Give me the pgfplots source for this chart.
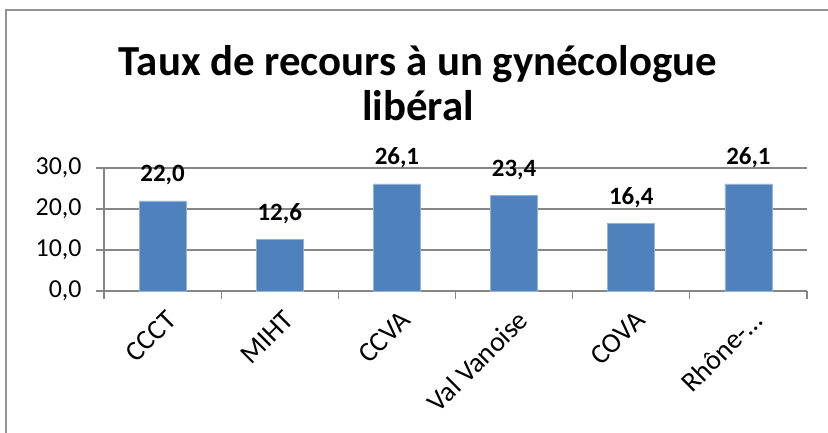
\documentclass[border=0pt]{standalone}
\usepackage{fontspec}
\setmainfont{Carlito}
\usepackage{pgfplots}
\pgfplotsset{compat=1.18}
\definecolor{barblue}{HTML}{4F81BD}
\definecolor{axisgray}{HTML}{868686}
\begin{document}
\begin{tikzpicture}[x=1bp,y=1bp]
\useasboundingbox (0,0) rectangle (828,432);
\draw[color=axisgray!90, line width=1.5bp] (6,-20) rectangle (850,422);
\node[font=\bfseries\fontsize{43}{52}\selectfont, anchor=base, inner sep=0pt] at (418,357) {Taux de recours à un gynécologue};
\node[font=\bfseries\fontsize{43}{52}\selectfont, anchor=base, inner sep=0pt] at (418,312) {libéral};
\begin{axis}[
  at={(104bp,141bp)}, anchor=south west,
  scale only axis, width=703bp, height=123bp,
  xmin=-0.5, xmax=5.5, ymin=0, ymax=30,
  axis x line*=bottom, axis y line*=left,
  axis line style={draw=axisgray, line width=1.2bp},
  ytick={0,10,20,30},
  xtick={-0.5,0.5,...,5.5},
  x tick label as interval,
  xticklabels={CCCT,MIHT,CCVA,Val Vanoise,COVA,Rhône-…},
  tick align=outside,
  major tick length=8bp,
  tick style={draw=axisgray, line width=1.2bp},
  ymajorgrids,
  grid style={draw=axisgray, line width=1.2bp},
  yticklabel style={font=\fontsize{26}{30}\selectfont, xshift=-11bp,
    /pgf/number format/fixed, /pgf/number format/fixed zerofill,
    /pgf/number format/precision=1, /pgf/number format/use comma,
    /pgf/number format/assume math mode=true},
  xticklabel style={font=\fontsize{28}{32}\selectfont, rotate=45, anchor=east, xshift=-2bp, yshift=-18bp},
  clip=false,
]
\addplot[ybar, bar width=47bp, fill=barblue, draw=barblue!60!white, line width=0.6bp,
  nodes near coords, point meta=explicit symbolic,
  nodes near coords style={font=\bfseries\fontsize{25}{29}\selectfont, anchor=base, yshift=19bp, inner sep=0pt}]
  coordinates {(0,22.0) [22,0] (1,12.6) [12,6] (2,26.1) [26,1] (3,23.4) [23,4] (4,16.4) [16,4] (5,26.1) [26,1]};
\end{axis}
\end{tikzpicture}
\end{document}
